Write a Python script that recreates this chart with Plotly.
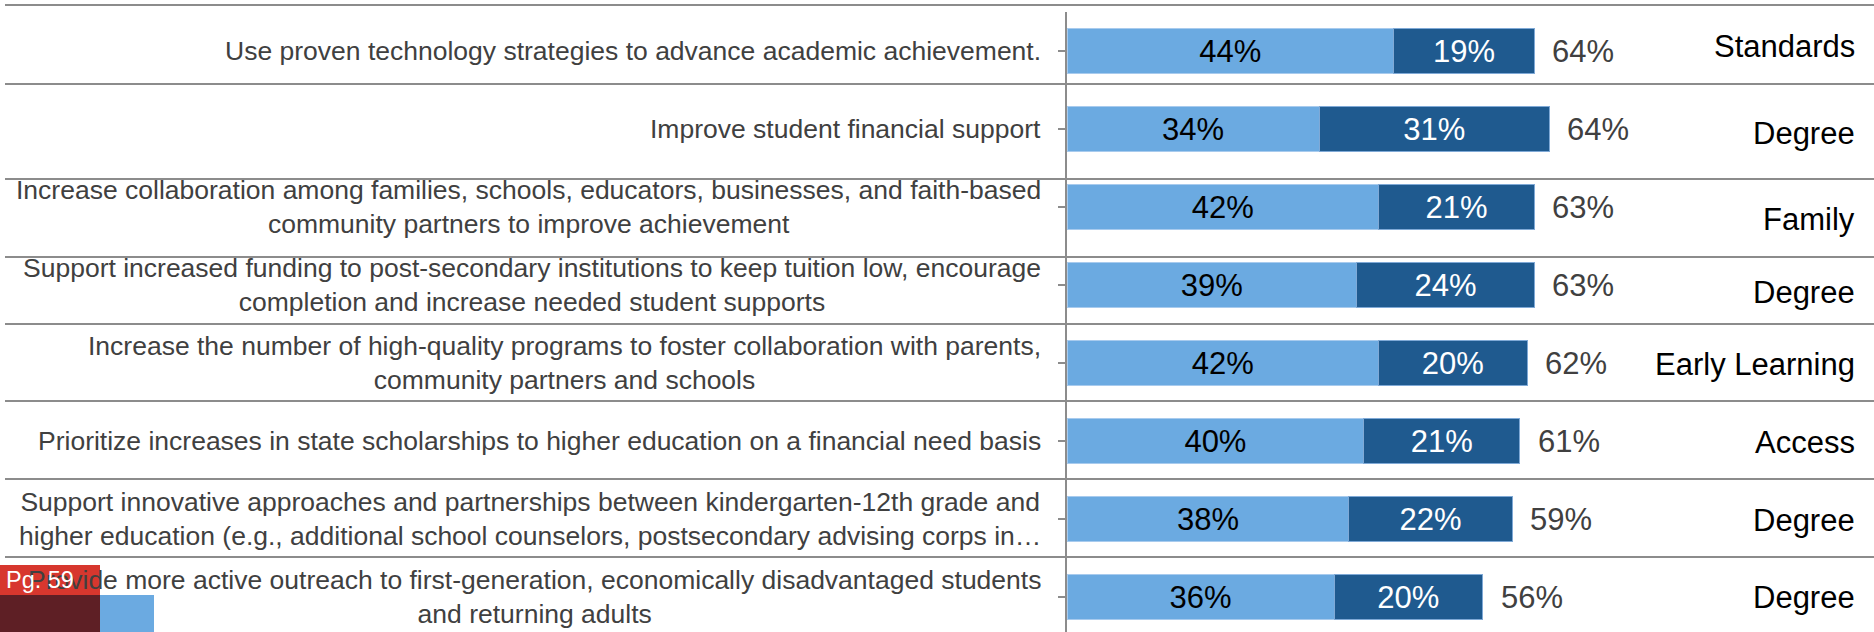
import plotly.graph_objects as go

# ---------------- data ----------------
statements = [
    "Use proven technology strategies to advance academic achievement.",
    "Improve student financial support",
    "Increase collaboration among families, schools, educators, businesses, and faith-based<br>community partners to improve achievement",
    "Support increased funding to post-secondary institutions to keep tuition low, encourage<br>completion and increase needed student supports",
    "Increase the number of high-quality programs to foster collaboration with parents,<br>community partners and schools",
    "Prioritize increases in state scholarships to higher education on a financial need basis",
    "Support innovative approaches and partnerships between kindergarten-12th grade and<br>higher education (e.g., additional school counselors, postsecondary advising corps in\u2026",
    "Provide more active outreach to first-generation, economically disadvantaged students<br>and returning adults",
]
themes = ["Standards", "Degree", "Family", "Degree", "Early Learning", "Access", "Degree", "Degree"]
light_pct = [44, 34, 42, 39, 42, 40, 38, 36]
dark_pct = [19, 31, 21, 24, 20, 21, 22, 20]
total_pct = [64, 64, 63, 63, 62, 61, 59, 56]

# ---------------- layout constants ----------------
W, H = 1874, 632
ML, MR, MT, MB = 1067, 65, 12, 0
PW, PH = W - ML - MR, H - MT - MB
ROW_PX = 78.0                      # pixel height of one category band
ROW_RULES_PX = [5, 84, 179, 257, 324, 401, 479, 557, 633]  # table rule lines

LIGHT = "#6BAAE1"
DARK = "#1F5A8F"
RULE = "#8C8C8C"
FONT = "Arial, Liberation Sans, sans-serif"


def px_x(x):
    return (x - ML) / PW


def px_y(y):
    return 1 - (y - MT) / PH


idx = list(range(len(statements)))

fig = go.Figure()
fig.add_trace(go.Bar(
    y=idx, x=light_pct, orientation="h",
    marker=dict(color=LIGHT, line=dict(color="#A8CBEE", width=1)),
    text=[f"{v}%" for v in light_pct], textposition="inside",
    insidetextanchor="middle", textangle=0,
    textfont=dict(family=FONT, size=31, color="#000000"),
    hoverinfo="skip", showlegend=False,
))
fig.add_trace(go.Bar(
    y=idx, x=dark_pct, orientation="h",
    marker=dict(color=DARK, line=dict(color="#7FA9D6", width=1)),
    text=[f"{v}%" for v in dark_pct], textposition="inside",
    insidetextanchor="middle", textangle=0,
    textfont=dict(family=FONT, size=31, color="#FFFFFF"),
    hoverinfo="skip", showlegend=False,
))

annotations = []
# left statements (centered lines, right edge near the axis)
for i, s in enumerate(statements):
    annotations.append(dict(
        xref="paper", yref="y", x=0, y=i, xanchor="right", yanchor="middle",
        xshift=-24, text=s, align="center", showarrow=False,
        font=dict(family=FONT, size=26.5, color="#404040"),
    ))
# totals after the bar ends
for i, (a, b, t) in enumerate(zip(light_pct, dark_pct, total_pct)):
    annotations.append(dict(
        xref="x", yref="y", x=a + b, y=i, xanchor="left", yanchor="middle",
        xshift=16, text=f"{t}%", showarrow=False,
        font=dict(family=FONT, size=31, color="#404040"),
    ))
# theme labels on the right, centred in table rows
for i, th in enumerate(themes):
    yc = (ROW_RULES_PX[i] + ROW_RULES_PX[i + 1]) / 2 + 2
    annotations.append(dict(
        xref="paper", yref="paper", x=px_x(1857), y=px_y(yc),
        xanchor="right", yanchor="middle", text=th, showarrow=False,
        font=dict(family=FONT, size=31, color="#000000"),
    ))
# page badge overlay
annotations.append(dict(
    xref="paper", yref="paper", x=px_x(4), y=px_y(580), xanchor="left",
    yanchor="middle", text="Pg. 59", showarrow=False,
    font=dict(family=FONT, size=23.5, color="#FFFFFF"),
))

shapes = []
for yy in ROW_RULES_PX[:-1]:
    shapes.append(dict(
        type="line", xref="paper", yref="paper", layer="below",
        x0=px_x(5), x1=px_x(W), y0=px_y(yy), y1=px_y(yy),
        line=dict(color=RULE, width=2),
    ))
shapes += [
    dict(type="rect", xref="paper", yref="paper", layer="below",
         x0=px_x(0), x1=px_x(100), y0=px_y(595), y1=px_y(565),
         fillcolor="#D7372E", line=dict(width=0)),
    dict(type="rect", xref="paper", yref="paper", layer="below",
         x0=px_x(0), x1=px_x(100), y0=px_y(H), y1=px_y(595),
         fillcolor="#5E1F25", line=dict(width=0)),
    dict(type="rect", xref="paper", yref="paper", layer="below",
         x0=px_x(100), x1=px_x(154), y0=px_y(H), y1=px_y(595),
         fillcolor=LIGHT, line=dict(width=0)),
]

n = len(statements)
fig.update_layout(
    width=W, height=H, barmode="stack", bargap=0.42,
    margin=dict(l=ML, r=MR, t=MT, b=MB, pad=0),
    paper_bgcolor="white", plot_bgcolor="white",
    xaxis=dict(range=[0, 100], visible=False, fixedrange=True),
    yaxis=dict(
        range=[-0.5 + PH / ROW_PX, -0.5], tickvals=idx, ticktext=[""] * n,
        showticklabels=False, showgrid=False, zeroline=False,
        showline=True, linecolor=RULE, linewidth=2,
        ticks="outside", ticklen=7, tickwidth=2, tickcolor=RULE,
        tickson="boundaries", type="linear", fixedrange=True,
    ),
    annotations=annotations, shapes=shapes,
)

fig.write_html(
    "out.html",
    config={"displayModeBar": False},
    post_script="document.body.style.margin='0px';document.body.style.overflow='hidden';",
)
